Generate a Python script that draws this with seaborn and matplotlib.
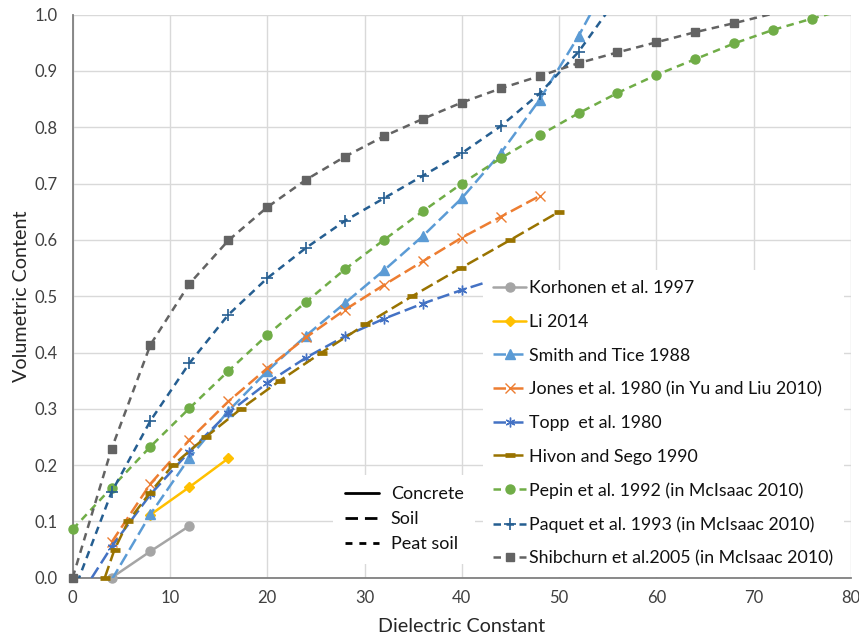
import matplotlib
matplotlib.use("Agg")
import matplotlib.pyplot as plt
from matplotlib.lines import Line2D
import seaborn as sns

# Dielectric constant (x) and volumetric content (y) for each relation
korhonen_x = [4, 8, 12]
korhonen_y = [0.000, 0.047, 0.092]

li_x = [8, 12, 16]
li_y = [0.112, 0.161, 0.212]

smith_x = [4, 8, 12, 16, 20, 24, 28, 32, 36, 40, 44, 48, 52, 56]
smith_y = [-0.004, 0.113, 0.213, 0.296, 0.367, 0.430, 0.488, 0.546, 0.607,
           0.674, 0.754, 0.849, 0.962, 1.090]

jones_x = [4, 8, 12, 16, 20, 24, 28, 32, 36, 40, 44, 48]
jones_y = [0.063, 0.167, 0.245, 0.313, 0.372, 0.427, 0.476, 0.520, 0.562,
           0.604, 0.641, 0.678]

topp_x = [0, 4, 8, 12, 16, 20, 24, 28, 32, 36, 40, 44]
topp_y = [-0.053, 0.055, 0.148, 0.224, 0.293, 0.346, 0.391, 0.429, 0.460,
          0.487, 0.511, 0.533]

hivon_x = [3.3, 4.3, 5.7, 7.9, 10.3, 13.7, 17.3, 21.3, 25.6, 30.1, 34.9,
           39.9, 45.0, 50.0]
hivon_y = [0.00, 0.05, 0.10, 0.15, 0.20, 0.25, 0.30, 0.35, 0.40, 0.45, 0.50,
           0.55, 0.60, 0.65]

pepin_x = [0, 4, 8, 12, 16, 20, 24, 28, 32, 36, 40, 44, 48, 52, 56, 60, 64,
           68, 72, 76, 80]
pepin_y = [0.086, 0.160, 0.233, 0.301, 0.367, 0.431, 0.490, 0.548, 0.600,
           0.651, 0.700, 0.745, 0.786, 0.825, 0.861, 0.893, 0.921, 0.949,
           0.973, 0.993, 1.012]

paquet_x = [0, 4, 8, 12, 16, 20, 24, 28, 32, 36, 40, 44, 48, 52, 56]
paquet_y = [-0.030, 0.152, 0.279, 0.381, 0.467, 0.532, 0.586, 0.634, 0.674,
            0.714, 0.754, 0.802, 0.860, 0.934, 1.030]

shib_x = [0, 4, 8, 12, 16, 20, 24, 28, 32, 36, 40, 44, 48, 52, 56, 60, 64,
          68, 72]
shib_y = [0.000, 0.229, 0.414, 0.522, 0.599, 0.658, 0.707, 0.748, 0.784,
          0.815, 0.844, 0.869, 0.891, 0.914, 0.933, 0.951, 0.969, 0.985,
          1.002]

labels = ["Korhonen et al. 1997", "Li 2014", "Smith and Tice 1988",
          "Jones et al. 1980 (in Yu and Liu 2010)", "Topp  et al. 1980",
          "Hivon and Sego 1990", "Pepin et al. 1992 (in McIsaac 2010)",
          "Paquet et al. 1993 (in McIsaac 2010)",
          "Shibchurn et al.2005 (in McIsaac 2010)"]

style_labels = ["Concrete", "Soil", "Peat soil"]

x_ticks = [0, 10, 20, 30, 40, 50, 60, 70, 80]
y_ticks = [0.0, 0.1, 0.2, 0.3, 0.4, 0.5, 0.6, 0.7, 0.8, 0.9, 1.0]

SOLID = "-"
SOIL = (0, (5, 2))
PEAT = (0, (3, 2.2))

series = [
    dict(x=korhonen_x, y=korhonen_y, color="#A5A5A5", ls=SOLID, marker="o", ms=6.5, mew=1),
    dict(x=li_x, y=li_y, color="#FFC000", ls=SOLID, marker="D", ms=5.5, mew=1),
    dict(x=smith_x, y=smith_y, color="#5B9BD5", ls=SOIL, marker="^", ms=7, mew=1),
    dict(x=jones_x, y=jones_y, color="#ED7D31", ls=SOIL, marker="x", ms=6.5, mew=1.0),
    dict(x=topp_x, y=topp_y, color="#4472C4", ls=SOIL, marker=(6, 2, 0), ms=7, mew=1.0),
    dict(x=hivon_x, y=hivon_y, color="#997300", ls=SOIL, marker="_", ms=7, mew=3.4),
    dict(x=pepin_x, y=pepin_y, color="#70AD47", ls=PEAT, marker="o", ms=6.5, mew=1),
    dict(x=paquet_x, y=paquet_y, color="#255E91", ls=PEAT, marker="+", ms=8, mew=1.2),
    dict(x=shib_x, y=shib_y, color="#636363", ls=PEAT, marker="s", ms=6, mew=1),
]

sns.set_theme(style="white")
plt.rcParams["font.family"] = ["Lato", "DejaVu Sans"]

fig = plt.figure(figsize=(8.59, 6.39), dpi=100)
ax = fig.add_axes([0.0846, 0.0959, 0.9060, 0.8811])

LW = 1.8
handles = []
for i, s in enumerate(series):
    z = 3 + i
    sns.lineplot(x=s["x"], y=s["y"], ax=ax, color=s["color"], lw=LW,
                 linestyle=s["ls"], sort=False, estimator=None, zorder=z)
    inside = [(xv, yv) for xv, yv in zip(s["x"], s["y"])
              if 0 <= yv <= 1 and 0 <= xv <= 80]
    mx = [p[0] for p in inside]
    my = [p[1] for p in inside]
    ax.plot(mx, my, linestyle="none", marker=s["marker"], ms=s["ms"],
            mew=s["mew"], color=s["color"], mfc=s["color"], mec=s["color"],
            clip_on=False, zorder=z + 0.5)
    handles.append(Line2D([], [], color=s["color"], lw=LW, linestyle=s["ls"],
                          marker=s["marker"], ms=s["ms"], mew=s["mew"],
                          mfc=s["color"], mec=s["color"]))

ax.set_xlim(0, 80)
ax.set_ylim(0, 1.0)
ax.set_xticks(x_ticks)
ax.set_yticks(y_ticks)
ax.set_yticklabels([f"{v:.1f}" for v in y_ticks])
ax.grid(True, color="#D9D9D9", lw=1.0)
ax.set_axisbelow(True)
for side in ("top", "right"):
    ax.spines[side].set_visible(False)
for side in ("left", "bottom"):
    ax.spines[side].set_color("#808080")
    ax.spines[side].set_linewidth(1.3)
    ax.spines[side].set_zorder(2)
ax.tick_params(axis="both", length=0, labelsize=12, labelcolor="#404040")
ax.tick_params(axis="x", pad=9)
ax.tick_params(axis="y", pad=11)

ax.set_xlabel("Dielectric Constant", fontsize=14.2, color="#262626")
ax.set_ylabel("Volumetric Content", fontsize=14.2, color="#262626")
ax.xaxis.set_label_coords(0.5, -0.072)
ax.yaxis.set_label_coords(-0.055, 0.5)

leg = ax.legend(handles, labels, loc="upper left",
                bbox_to_anchor=(0.527, 0.547), fontsize=12.8,
                frameon=True, fancybox=False, framealpha=1.0,
                facecolor="white", edgecolor="none",
                handlelength=1.85, handletextpad=0.15, labelspacing=0.99,
                borderpad=0.6, borderaxespad=0)
for t in leg.get_texts():
    t.set_color("#111111")
leg.set_zorder(20)
ax.add_artist(leg)

style_handles = [
    Line2D([], [], color="black", lw=2.0, linestyle=SOLID),
    Line2D([], [], color="black", lw=2.0, linestyle=(0, (4.5, 2.5))),
    Line2D([], [], color="black", lw=2.0, linestyle=(0, (2.5, 2.5))),
]
leg2 = ax.legend(style_handles, style_labels, loc="upper left",
                 bbox_to_anchor=(0.3345, 0.183), fontsize=13,
                 frameon=True, fancybox=False, framealpha=1.0,
                 facecolor="white", edgecolor="none",
                 handlelength=1.9, handletextpad=0.65, labelspacing=0.5,
                 borderpad=0.65, borderaxespad=0)
for t in leg2.get_texts():
    t.set_color("#111111")
leg2.set_zorder(20)

fig.savefig("out.png", dpi=100)
